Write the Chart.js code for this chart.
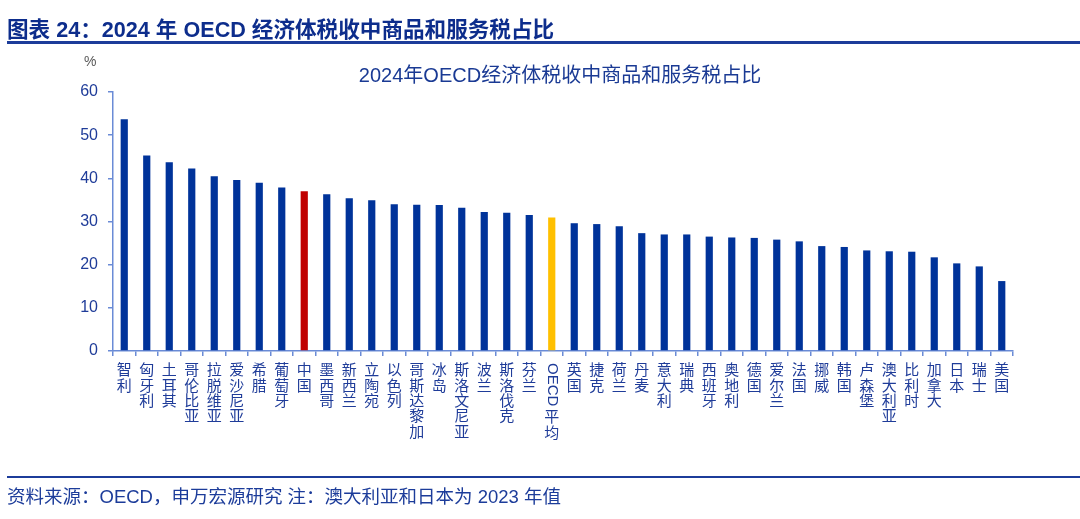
<!DOCTYPE html>
<html>
<head>
<meta charset="utf-8">
<script src="https://cdn.jsdelivr.net/npm/chart.js@4.4.1/dist/chart.umd.min.js"></script>
<style>
  body { margin: 0; background: #fff; width: 1080px; height: 519px; overflow: hidden; position: relative;
         font-family: "Liberation Sans", Arial, "Noto Sans CJK SC", sans-serif; }
  #head { position: absolute; left: 7px; top: 18px; font-size: 21.6px; line-height: 24px; font-weight: bold; color: #0d2d8c; white-space: nowrap; }
  #headLine { position: absolute; left: 7px; right: 0; top: 41px; height: 3px; background: #1c3c9a; }
  #footLine { position: absolute; left: 7px; right: 0; top: 476px; height: 2px; background: #1c3c9a; }
  #foot { position: absolute; left: 7px; top: 487px; font-size: 18.5px; line-height: 20px; color: #1c3c9a; white-space: nowrap; }
  #unit { position: absolute; left: 84px; top: 53px; font-size: 14px; color: #595959; }
  #wrap { position: absolute; left: 0; top: 0; width: 1080px; height: 519px; }
  #sub { position: absolute; left: 0; width: 1120px; top: 63px; text-align: center; font-size: 20px; line-height: 24px; color: #1a3a94; white-space: nowrap; }
</style>
</head>
<body>
<div id="wrap"><canvas id="chart"></canvas></div>
<div id="head">图表 24：2024 年 OECD 经济体税收中商品和服务税占比</div>
<div id="headLine"></div>
<div id="sub">2024年OECD经济体税收中商品和服务税占比</div>
<div id="unit">%</div>
<div id="footLine"></div>
<div id="foot">资料来源：OECD，申万宏源研究 注：澳大利亚和日本为 2023 年值</div>
<script>
// countries, sorted as in the source chart
const countries = [
  "智利", "匈牙利", "土耳其", "哥伦比亚", "拉脱维亚", "爱沙尼亚", "希腊", "葡萄牙", "中国", "墨西哥",
  "新西兰", "立陶宛", "以色列", "哥斯达黎加", "冰岛", "斯洛文尼亚", "波兰", "斯洛伐克", "芬兰", "OECD平均",
  "英国", "捷克", "荷兰", "丹麦", "意大利", "瑞典", "西班牙", "奥地利", "德国", "爱尔兰",
  "法国", "挪威", "韩国", "卢森堡", "澳大利亚", "比利时", "加拿大", "日本", "瑞士", "美国"
];
// share of goods & services tax in total tax revenue (%)
const shares = [
  53.7, 45.3, 43.7, 42.3, 40.5, 39.6, 39.0, 37.9, 37.0, 36.3,
  35.4, 34.9, 34.0, 33.9, 33.8, 33.2, 32.2, 32.0, 31.5, 30.9,
  29.6, 29.4, 28.9, 27.3, 27.0, 27.0, 26.5, 26.3, 26.2, 25.8,
  25.4, 24.3, 24.1, 23.3, 23.1, 23.0, 21.7, 20.3, 19.6, 16.2
];
const yTicks = [0, 10, 20, 30, 40, 50, 60];

const barBlue = "#00339a";
const axisBlue = "#6a8bd6";
const textBlue = "#1f3c99";
const barColors = countries.map(c => c === "中国" ? "#c00000" : (c === "OECD平均" ? "#ffc000" : barBlue));

// vertical category labels: CJK stacked, latin runs rotated
const verticalLabels = {
  id: "verticalLabels",
  afterDraw(chart) {
    const ctx = chart.ctx;
    const xs = chart.scales.x;
    ctx.save();
    ctx.fillStyle = textBlue;
    ctx.font = '15px "Liberation Sans", Arial, "Noto Sans CJK SC"';
    countries.forEach((name, i) => {
      const x = xs.getPixelForValue(i);
      let y = 363;
      const parts = name.match(/[A-Za-z0-9]+|./g);
      parts.forEach(p => {
        if (p.length > 1) {
          const w = ctx.measureText(p).width;
          ctx.save();
          ctx.translate(x, y);
          ctx.rotate(Math.PI / 2);
          ctx.textAlign = "left";
          ctx.textBaseline = "middle";
          ctx.fillText(p, 0, 0);
          ctx.restore();
          y += w + 4;
        } else {
          ctx.textAlign = "center";
          ctx.textBaseline = "middle";
          ctx.fillText(p, x, y + 8);
          y += 15.4;
        }
      });
    });
    ctx.restore();
  }
};

new Chart(document.getElementById("chart"), {
  type: "bar",
  plugins: [verticalLabels],
  data: {
    labels: countries,
    datasets: [{
      data: shares,
      backgroundColor: barColors,
      barPercentage: 0.32,
      categoryPercentage: 1
    }]
  },
  options: {
    responsive: true,
    maintainAspectRatio: false,
    animation: false,
    layout: { padding: { left: 0, right: 67, top: 92, bottom: 0 } },
    plugins: {
      legend: { display: false },
      tooltip: { enabled: false },
      title: { display: false }
    },
    scales: {
      x: {
        afterFit: s => { s.height = 168; },
        border: { color: axisBlue, width: 1.5 },
        grid: { drawOnChartArea: false, drawTicks: true, tickLength: 5, color: axisBlue, lineWidth: 1.5, offset: true },
        ticks: { callback: () => "", autoSkip: false, maxRotation: 0 }
      },
      y: {
        min: 0,
        max: 60,
        afterFit: s => { s.width = 113; },
        afterBuildTicks: s => { s.ticks = yTicks.map(v => ({ value: v })); },
        border: { color: axisBlue, width: 1.5 },
        grid: { drawOnChartArea: false, drawTicks: true, tickLength: 5, color: axisBlue, lineWidth: 1.5 },
        ticks: {
          padding: 10,
          color: textBlue,
          font: { family: '"Liberation Sans", Arial', size: 16 }
        }
      }
    }
  }
});
</script>
</body>
</html>
